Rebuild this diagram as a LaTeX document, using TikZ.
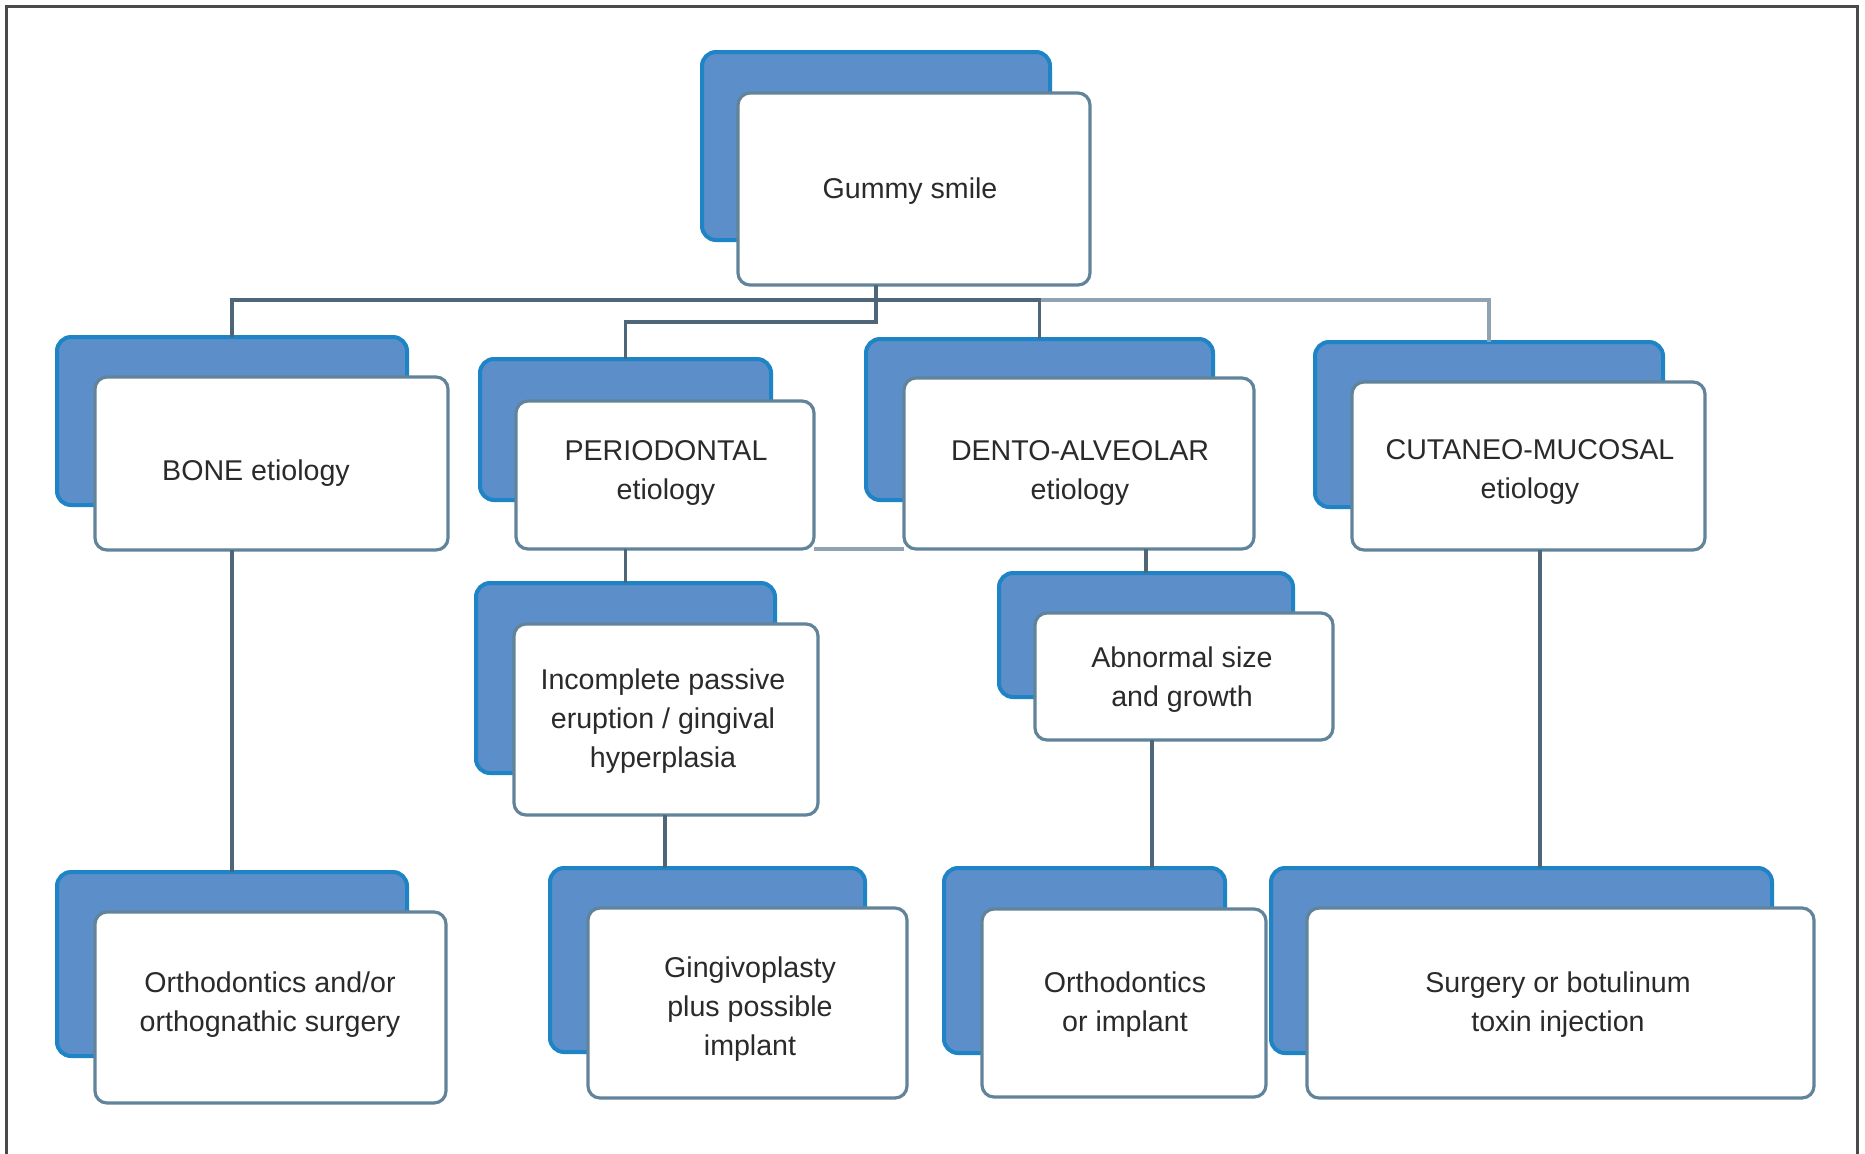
\documentclass[tikz,border=0pt]{standalone}
\usepackage{fontspec}
\setmainfont{Liberation Sans}
\definecolor{backfill}{HTML}{5C8ECA}
\definecolor{backline}{HTML}{1F84C6}
\definecolor{frontline}{HTML}{62849A}
\definecolor{connline}{HTML}{4F6578}
\definecolor{connlight}{HTML}{8FA3B3}
\definecolor{framecol}{HTML}{4A4A4A}
\definecolor{textcol}{HTML}{2A2A2A}
\tikzset{
  backbox/.style={draw=backline, fill=backfill, line width=2pt, rounded corners=7pt, inner sep=0pt, outer sep=0pt},
  frontbox/.style={draw=frontline, fill=white, line width=1.6pt, rounded corners=6pt, inner sep=0pt, outer sep=0pt},
  lbl/.style={align=center, font=\fontsize{14.3}{19.5}\selectfont, text=textcol, inner sep=0pt},
  conn/.style={draw=connline, line width=1.6pt},
  connl/.style={draw=connlight, line width=1.6pt},
  frameline/.style={draw=framecol, line width=1.5pt}
}
\newcommand\boxpair[9]{%
  \pgfmathsetmacro\pairW{(#4-#2)*0.5}%
  \pgfmathsetmacro\pairH{(#5-#3)*0.5}%
  \node[backbox, minimum width=\pairW pt, minimum height=\pairH pt] (#1b) at ({(#2+#4)/2},{(#3+#5)/2}) {};
  \pgfmathsetmacro\pairW{(#8-#6)*0.5}%
  \pgfmathsetmacro\pairH{(#9-#7)*0.5}%
  \node[frontbox, minimum width=\pairW pt, minimum height=\pairH pt] (#1f) at ({(#6+#8)/2},{(#7+#9)/2}) {};
}
\begin{document}
\begin{tikzpicture}[x=0.5pt,y=-0.5pt]
\useasboundingbox[fill=white] (0,0) rectangle (1865,1153);
\draw[frameline] (6,1170) -- (6,6) -- (1857,6) -- (1857,1170);

% boxes (back + front)
\boxpair{gs}{702}{52}{1050}{240}{738}{93}{1090}{285}
\boxpair{bone}{57}{337}{407}{505}{95}{377}{448}{550}
\boxpair{per}{480}{359}{771}{500}{516}{401}{814}{549}
\boxpair{den}{866}{339}{1213}{500}{904}{378}{1254}{549}
\boxpair{cut}{1315}{342}{1663}{507}{1352}{382}{1705}{550}
\boxpair{inc}{476}{583}{775}{773}{514}{624}{818}{815}
\boxpair{abn}{999}{573}{1293}{697}{1035}{613}{1333}{740}
\boxpair{ort}{57}{872}{407}{1056}{95}{912}{446}{1103}
\boxpair{gin}{550}{868}{865}{1052}{588}{908}{907}{1098}
\boxpair{ori}{944}{868}{1225}{1053}{982}{909}{1266}{1097}
\boxpair{sur}{1271}{868}{1772}{1053}{1307}{908}{1814}{1098}

% connectors
\coordinate (hub) at (876,322);
\coordinate (topy) at (876,300);
\coordinate (aoi) at (1152,0);
\coordinate (igx) at (665,0);
\coordinate (csx) at (1540,0);
\draw[connl] (denb.north |- topy) -| (cutb.north);
\draw[conn] (boneb.north) |- (denb.north |- topy) -- (denb.north);
\draw[conn] (gsf.south -| hub) -- (hub) -| (perb.north);
\draw[conn] (bonef.south -| ortb.north) -- (ortb.north);
\draw[conn] (perf.south -| incb.north) -- (incb.north);
\draw[connl] (perf.south east) -- (denf.south west);
\draw[conn] (denf.south -| abnb.north) -- (abnb.north);
\draw[conn] (abnf.south -| aoi) -- (orib.north -| aoi);
\draw[conn] (incf.south -| igx) -- (ginb.north -| igx);
\draw[conn] (cutf.south -| csx) -- (surb.north -| csx);

% labels
\node[lbl] (gst) at (910,191) {Gummy smile};
\node[lbl] (bonet) at (256,473) {BONE etiology};
\node[lbl] (pert) at (666,473) {PERIODONTAL\\etiology};
\node[lbl] (dent) at (1080,473) {DENTO-ALVEOLAR\\etiology};
\node[lbl] (cutt) at (1530,472) {CUTANEO-MUCOSAL\\etiology};
\node[lbl] (inct) at (663,721) {Incomplete passive\\eruption / gingival\\hyperplasia};
\node[lbl] (abnt) at (1182,680) {Abnormal size\\and growth};
\node[lbl] (ortt) at (270,1005) {Orthodontics and/or\\orthognathic surgery};
\node[lbl] (gint) at (750,1009) {Gingivoplasty\\plus possible\\implant};
\node[lbl] (orit) at (1125,1005) {Orthodontics\\or implant};
\node[lbl] (surt) at (1558,1005) {Surgery or botulinum\\toxin injection};
\end{tikzpicture}
\end{document}
